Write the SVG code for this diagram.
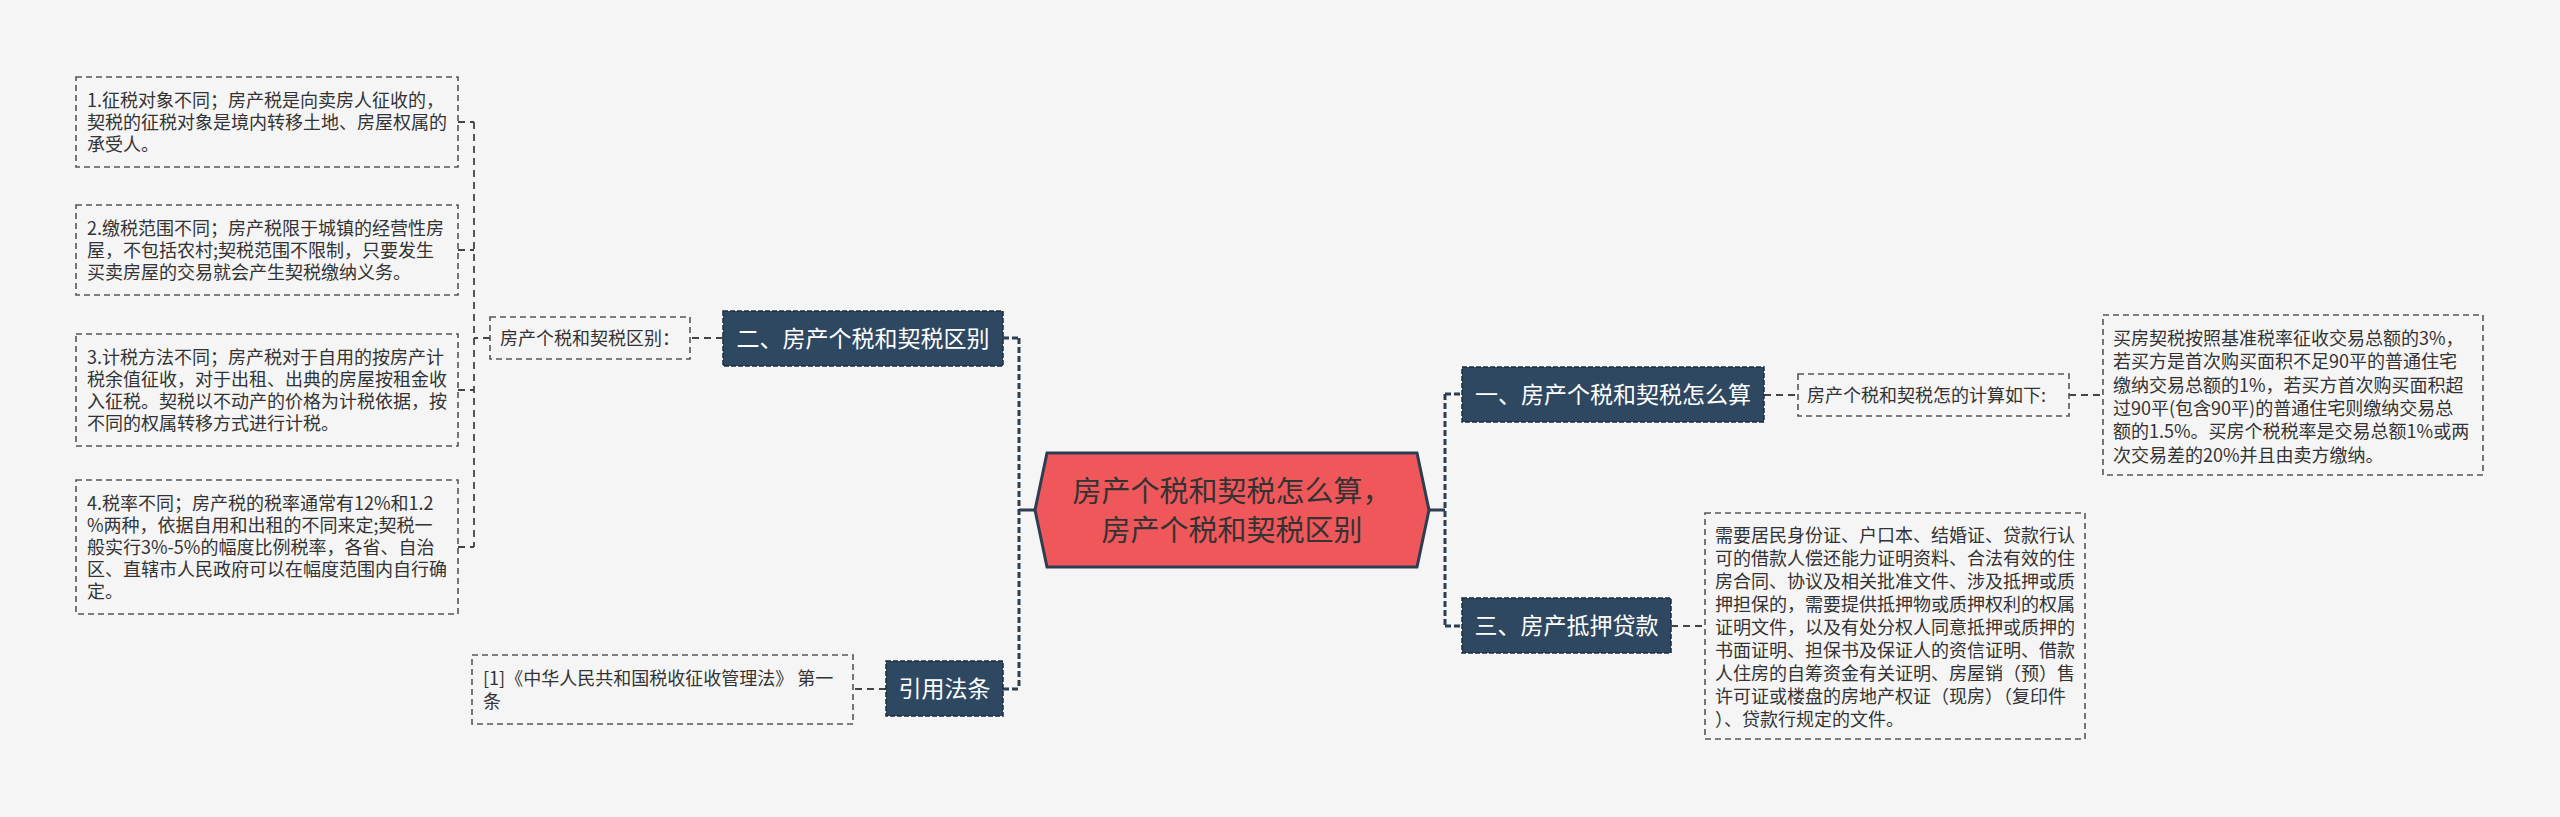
<svg xmlns="http://www.w3.org/2000/svg" width="2560" height="817" viewBox="0 0 2560 817">
<style>
.bg{fill:#f5f5f5}
.box{fill:#f5f5f5;stroke:#555;stroke-width:1.6;stroke-dasharray:6 4}
.node{fill:#2f4862;stroke:#1c2d3e;stroke-width:1.5;stroke-dasharray:5 2}
.t{font-family:"Noto Sans CJK SC","Noto Sans",sans-serif;font-size:18px;fill:#333}
.nt{font-family:"Noto Sans CJK SC","Noto Sans",sans-serif;font-size:23px;fill:#fff;text-anchor:middle}
.ht{font-family:"Noto Sans CJK SC","Noto Sans",sans-serif;font-size:29px;fill:#333;text-anchor:middle}
.c1{fill:none;stroke:#2c3e50;stroke-width:3;stroke-dasharray:6 3}
.c0{fill:none;stroke:#2c3e50;stroke-width:3}
.c2{fill:none;stroke:#444;stroke-width:1.8;stroke-dasharray:7 5}
</style>
<rect class="bg" x="0" y="0" width="2560" height="817"/>
<g id="connectors">
<path class="c0" d="M1429,510 H1445 M1035,510 H1019"/>
<path class="c1" d="M1445,394 V626 M1445,394 H1462 M1445,626 H1462"/>
<path class="c1" d="M1019,338 V689 M1003,338 H1019 M1003,689 H1019"/>
<path class="c2" d="M1764,395 H1798 M2069,395 H2103 M1671,626 H1705"/>
<path class="c2" d="M723,338 H690 M490,338 H474 M474,122 V547 M458,122 H474 M458,250 H474 M458,390 H474 M458,547 H474"/>
<path class="c2" d="M886,689 H853"/>
</g>
<g id="center">
<polygon points="1035,510 1047,453 1417,453 1429,510 1417,567 1047,567" fill="#f0575a" stroke="#2c3e50" stroke-width="3"/>
<text class="ht" x="1232" y="502">房产个税和契税怎么算，</text>
<text class="ht" x="1232" y="541">房产个税和契税区别</text>
</g>
<g id="node1">
<rect class="node" x="1462" y="367" width="302" height="55"/>
<text class="nt" x="1613" y="403">一、房产个税和契税怎么算</text>
</g>
<g id="node1-label">
<rect class="box" x="1798" y="374" width="271" height="42"/>
<text class="t" x="1807" y="402">房产个税和契税怎的计算如下:</text>
</g>
<g id="node1-detail">
<rect class="box" x="2103" y="315" width="380" height="160"/>
<text class="t" x="2113" y="345">买房契税按照基准税率征收交易总额的3%，</text>
<text class="t" x="2113" y="368">若买方是首次购买面积不足90平的普通住宅</text>
<text class="t" x="2113" y="392">缴纳交易总额的1%，若买方首次购买面积超</text>
<text class="t" x="2113" y="415">过90平(包含90平)的普通住宅则缴纳交易总</text>
<text class="t" x="2113" y="438">额的1.5%。买房个税税率是交易总额1%或两</text>
<text class="t" x="2113" y="462">次交易差的20%并且由卖方缴纳。</text>
</g>
<g id="node3">
<rect class="node" x="1462" y="598" width="209" height="55"/>
<text class="nt" x="1566.5" y="634">三、房产抵押贷款</text>
</g>
<g id="node3-detail">
<rect class="box" x="1705" y="513" width="380" height="226"/>
<text class="t" x="1715" y="542">需要居民身份证、户口本、结婚证、贷款行认</text>
<text class="t" x="1715" y="565">可的借款人偿还能力证明资料、合法有效的住</text>
<text class="t" x="1715" y="588">房合同、协议及相关批准文件、涉及抵押或质</text>
<text class="t" x="1715" y="611">押担保的，需要提供抵押物或质押权利的权属</text>
<text class="t" x="1715" y="634">证明文件，以及有处分权人同意抵押或质押的</text>
<text class="t" x="1715" y="657">书面证明、担保书及保证人的资信证明、借款</text>
<text class="t" x="1715" y="680">人住房的自筹资金有关证明、房屋销（预）售</text>
<text class="t" x="1715" y="703">许可证或楼盘的房地产权证（现房）（复印件</text>
<text class="t" x="1715" y="726">）、贷款行规定的文件。</text>
</g>
<g id="node2">
<rect class="node" x="723" y="311" width="280" height="55"/>
<text class="nt" x="863" y="347">二、房产个税和契税区别</text>
</g>
<g id="node2-label">
<rect class="box" x="490" y="317" width="200" height="42"/>
<text class="t" x="500" y="345">房产个税和契税区别：</text>
</g>
<g id="node2-item1">
<rect class="box" x="76" y="77" width="382" height="90"/>
<text class="t" x="87" y="107">1.征税对象不同；房产税是向卖房人征收的，</text>
<text class="t" x="87" y="129">契税的征税对象是境内转移土地、房屋权属的</text>
<text class="t" x="87" y="151">承受人。</text>
</g>
<g id="node2-item2">
<rect class="box" x="76" y="205" width="382" height="90"/>
<text class="t" x="87" y="235">2.缴税范围不同；房产税限于城镇的经营性房</text>
<text class="t" x="87" y="257">屋，不包括农村;契税范围不限制，只要发生</text>
<text class="t" x="87" y="279">买卖房屋的交易就会产生契税缴纳义务。</text>
</g>
<g id="node2-item3">
<rect class="box" x="76" y="334" width="382" height="112"/>
<text class="t" x="87" y="364">3.计税方法不同；房产税对于自用的按房产计</text>
<text class="t" x="87" y="386">税余值征收，对于出租、出典的房屋按租金收</text>
<text class="t" x="87" y="408">入征税。契税以不动产的价格为计税依据，按</text>
<text class="t" x="87" y="430">不同的权属转移方式进行计税。</text>
</g>
<g id="node2-item4">
<rect class="box" x="76" y="480" width="382" height="134"/>
<text class="t" x="87" y="510">4.税率不同；房产税的税率通常有12%和1.2</text>
<text class="t" x="87" y="532">%两种，依据自用和出租的不同来定;契税一</text>
<text class="t" x="87" y="554">般实行3%-5%的幅度比例税率，各省、自治</text>
<text class="t" x="87" y="576">区、直辖市人民政府可以在幅度范围内自行确</text>
<text class="t" x="87" y="598">定。</text>
</g>
<g id="node4">
<rect class="node" x="886" y="661" width="117" height="55"/>
<text class="nt" x="944.5" y="697">引用法条</text>
</g>
<g id="node4-detail">
<rect class="box" x="472" y="655" width="381" height="69"/>
<text class="t" x="483" y="685">[1]《中华人民共和国税收征收管理法》 第一</text>
<text class="t" x="483" y="708">条</text>
</g>
</svg>
